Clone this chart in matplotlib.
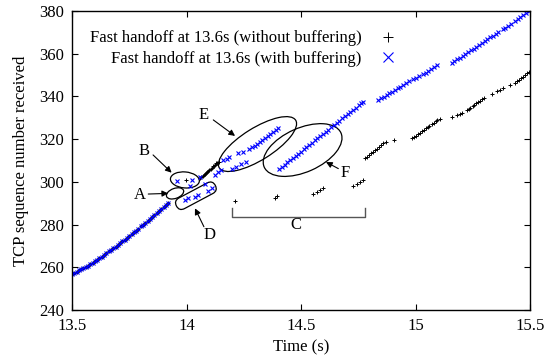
import matplotlib
matplotlib.use("Agg")
import matplotlib.pyplot as plt
from matplotlib.patches import Ellipse, FancyBboxPatch
from matplotlib.transforms import ScaledTranslation, Affine2D

# ---------------- data ----------------
# common part before the handoff (both series overlap)
t_pre = [13.50, 13.51, 13.52, 13.53, 13.54, 13.55, 13.56, 13.57, 13.58, 13.59,
         13.60, 13.61, 13.62, 13.63, 13.64, 13.65, 13.66, 13.67, 13.68, 13.69,
         13.70, 13.71, 13.72, 13.73, 13.74, 13.75, 13.76, 13.77, 13.78, 13.79,
         13.80, 13.81, 13.82, 13.83, 13.84, 13.85, 13.86, 13.87, 13.88, 13.89,
         13.90, 13.91, 13.92]
seq_pre = [257.0, 257.5, 258.0, 258.5, 259.0, 259.5, 260.0, 260.7, 261.4, 262.1,
           262.8, 263.5, 264.2, 265.0, 265.8, 266.6, 267.4, 268.2, 269.0, 269.7,
           270.4, 271.2, 272.1, 273.0, 273.8, 274.6, 275.4, 276.3, 277.2, 278.1,
           279.1, 280.0, 280.9, 281.8, 282.7, 283.6, 284.5, 285.4, 286.3, 287.2,
           288.1, 289.0, 290.0]

# without buffering (black +) after handoff
t_nobuf = [13.996,
           14.060, 14.065, 14.070, 14.075, 14.080, 14.085, 14.090, 14.095, 14.100,
           14.105, 14.110, 14.115, 14.120, 14.125, 14.130, 14.135, 14.140,
           14.212, 14.388, 14.396,
           14.554, 14.569, 14.583, 14.598,
           14.728, 14.743, 14.757, 14.772,
           14.779, 14.788, 14.797, 14.806, 14.815, 14.824, 14.833, 14.842, 14.851,
           14.860, 14.870,
           14.908,
           14.983, 14.992, 15.000, 15.009, 15.018, 15.027, 15.035, 15.044, 15.053,
           15.061, 15.070, 15.079, 15.088, 15.096, 15.105,
           15.158,
           15.183, 15.196, 15.205,
           15.223, 15.232, 15.240, 15.249, 15.257, 15.266, 15.274, 15.283, 15.291, 15.300,
           15.333,
           15.355, 15.369, 15.384,
           15.412,
           15.434, 15.443, 15.452, 15.460, 15.469, 15.478, 15.486, 15.495]
seq_nobuf = [300.9,
             302.0, 302.5, 302.9, 303.4, 303.9, 304.3, 304.8, 305.3, 305.7,
             306.2, 306.7, 307.2, 307.6, 308.1, 308.6, 309.0, 309.5,
             291.1, 292.6, 293.2,
             294.3, 295.2, 296.1, 297.0,
             298.2, 299.1, 300.0, 300.9,
             311.0, 311.8, 312.5, 313.3, 314.1, 314.9, 315.6, 316.4, 317.2,
             318.0, 318.8,
             319.5,
             320.4, 321.0, 321.7, 322.3, 323.0, 323.7, 324.3, 325.0, 325.6,
             326.3, 327.0, 327.6, 328.3, 328.9, 329.6,
             330.3,
             331.3, 332.0, 332.4,
             333.6, 334.2, 334.8, 335.5, 336.1, 336.7, 337.4, 338.0, 338.6, 339.3,
             341.3,
             342.5, 343.2, 344.0,
             345.3,
             346.5, 347.2, 347.9, 348.6, 349.3, 350.0, 350.8, 351.5]

# with buffering (blue x) after handoff
t_buf = [13.957, 13.993, 14.005, 14.015, 14.023, 14.037, 14.052, 14.059, 14.081,
         14.096, 14.110, 14.124, 14.137, 14.150,
         14.161, 14.176, 14.187, 14.226, 14.245,
         14.197, 14.216, 14.237, 14.258,
         14.274, 14.285, 14.297, 14.308, 14.320, 14.331, 14.343, 14.354, 14.366,
         14.377, 14.389, 14.400,
         14.404, 14.416, 14.428, 14.440, 14.452, 14.464, 14.476, 14.488, 14.500,
         14.512, 14.524, 14.536, 14.548, 14.560, 14.572, 14.584, 14.596, 14.608,
         14.620, 14.632, 14.644, 14.656, 14.668, 14.680, 14.692, 14.704, 14.716,
         14.728, 14.740, 14.752, 14.764, 14.772,
         14.838, 14.850, 14.862, 14.874, 14.886, 14.898, 14.910, 14.922, 14.934,
         14.946, 14.958, 14.970, 14.990, 15.002, 15.014, 15.032, 15.044, 15.056,
         15.068, 15.080, 15.092,
         15.158, 15.170, 15.182, 15.194, 15.206, 15.218, 15.230, 15.242, 15.254,
         15.266, 15.278, 15.290, 15.302, 15.314, 15.326, 15.338, 15.350, 15.362,
         15.380, 15.392, 15.404, 15.416, 15.434, 15.446, 15.458, 15.470, 15.482,
         15.494]
seq_buf = [300.4, 291.5, 292.3, 298.2, 300.9, 293.1, 293.9, 302.1, 298.8,
           295.8, 297.0, 303.4, 304.4, 305.5,
           310.2, 310.6, 311.5, 313.7, 314.1,
           305.9, 307.1, 308.4, 309.4,
           315.2, 316.1, 317.0, 317.9, 318.8, 319.7, 320.6, 321.5, 322.4,
           323.3, 324.1, 325.0,
           306.0, 307.0, 308.1, 309.1, 310.1, 311.2, 312.2, 313.2, 314.2,
           315.3, 316.3, 317.3, 318.4, 319.4, 320.4, 321.5, 322.5, 323.5,
           324.5, 325.6, 326.6, 327.6, 328.6, 329.7, 330.7, 331.7, 332.8,
           333.8, 334.8, 335.8, 336.9, 337.5,
           338.5, 339.2, 339.9, 340.6, 341.4, 342.2, 343.0, 343.8, 344.6,
           345.5, 346.3, 347.0, 348.0, 348.6, 349.4, 350.3, 351.1, 351.9,
           352.8, 353.7, 354.7,
           355.5, 356.4, 357.3, 358.1, 359.0, 359.9, 360.7, 361.6, 362.4,
           363.3, 364.2, 365.0, 365.9, 366.7, 367.6, 368.4, 369.3, 370.2,
           371.4, 372.2, 373.1, 374.0, 375.3, 376.1, 377.0, 378.0, 379.0,
           380.0]

label_nobuf = "Fast handoff at 13.6s (without buffering)"
label_buf = "Fast handoff at 13.6s (with buffering)"
x_ticks = [13.5, 14, 14.5, 15, 15.5]
x_tick_labels = ["13.5", "14", "14.5", "15", "15.5"]
y_ticks = [240, 260, 280, 300, 320, 340, 360, 380]

# ---------------- figure ----------------
DPI = 100
plt.rcParams['font.family'] = ['Liberation Serif', 'DejaVu Serif']
plt.rcParams['font.size'] = 12

fig = plt.figure(figsize=(5.46, 3.56), dpi=DPI)
ax = fig.add_axes([72 / 546, 1 - 310 / 356, (530 - 72) / 546, (310 - 11) / 356])

ax.plot(t_pre + t_nobuf, seq_pre + seq_nobuf, linestyle='none', marker='+',
        markersize=3.0, markeredgewidth=0.7, color='black', label=label_nobuf)
ax.plot(t_pre + t_buf, seq_pre + seq_buf, linestyle='none', marker='x',
        markersize=3.2, markeredgewidth=0.8, color='#0000ff', label=label_buf)

ax.set_xlim(13.5, 15.5)
ax.set_ylim(240, 380)
ax.set_xticks(x_ticks)
ax.set_xticklabels(x_tick_labels)
ax.set_yticks(y_ticks)
ax.tick_params(direction='in', length=4, width=0.8, top=True, right=True, pad=6)
for s in ax.spines.values():
    s.set_linewidth(1.0)
ax.set_xlabel("Time (s)", labelpad=4)
ax.set_ylabel("TCP sequence number received", labelpad=7)

leg = ax.legend(loc='center right', bbox_to_anchor=(420 / 546, 1 - 48.5 / 356),
                bbox_transform=fig.transFigure, frameon=False, markerfirst=False,
                markerscale=2.2, handlelength=2.0, handletextpad=0.6,
                labelspacing=0.25, borderpad=0.4, fontsize=12)


def anchor_tr(cx, cy, angle=0):
    return (Affine2D().rotate_deg(angle) + fig.dpi_scale_trans
            + ScaledTranslation(cx, cy, ax.transData))


def px_ellipse(cx, cy, w_px, h_px, angle):
    e = Ellipse((0, 0), w_px / DPI, h_px / DPI, angle=angle,
                transform=anchor_tr(cx, cy), fill=False, lw=0.9, ec='black')
    ax.add_patch(e)


def px_capsule(cx, cy, w_px, h_px, angle):
    w, h = w_px / DPI, h_px / DPI
    p = FancyBboxPatch((-w / 2, -h / 2), w, h,
                       boxstyle="round,pad=0,rounding_size=%f" % (h / 2),
                       transform=anchor_tr(cx, cy, angle), fill=False,
                       lw=0.9, ec='black')
    ax.add_patch(p)


def arrow(tail, tip):
    ax.annotate('', xy=tip, xytext=tail,
                arrowprops=dict(arrowstyle='-|>', lw=0.8, color='black',
                                mutation_scale=9, shrinkA=0, shrinkB=0))


# ellipses
px_ellipse(13.950, 294.6, 18, 10, 20)    # A
px_ellipse(13.993, 300.9, 29, 16, -5)    # B
px_capsule(14.041, 293.5, 44, 12, 28)    # D
px_ellipse(14.310, 317.7, 90, 32, 32)    # E
px_ellipse(14.507, 314.9, 84, 44, 24)    # F

# letters and arrows
ax.text(13.797, 293.8, "A", ha='center', va='center')
arrow((13.833, 294.3), (13.920, 294.6))
ax.text(13.814, 314.6, "B", ha='center', va='center')
arrow((13.854, 312.6), (13.935, 304.3))
ax.text(14.100, 275.1, "D", ha='center', va='center')
arrow((14.076, 279.0), (14.037, 287.6))
ax.text(14.076, 331.3, "E", ha='center', va='center')
arrow((14.117, 329.0), (14.212, 321.5))
ax.text(14.692, 304.0, "F", ha='center', va='center')
arrow((14.663, 306.2), (14.609, 309.3))

# bracket C
ax.plot([14.197, 14.197, 14.779, 14.779], [287.6, 283.7, 283.7, 287.6],
        color='#555555', lw=1.0)
ax.text(14.477, 279.8, "C", ha='center', va='center')

fig.savefig("out.png", dpi=DPI)
